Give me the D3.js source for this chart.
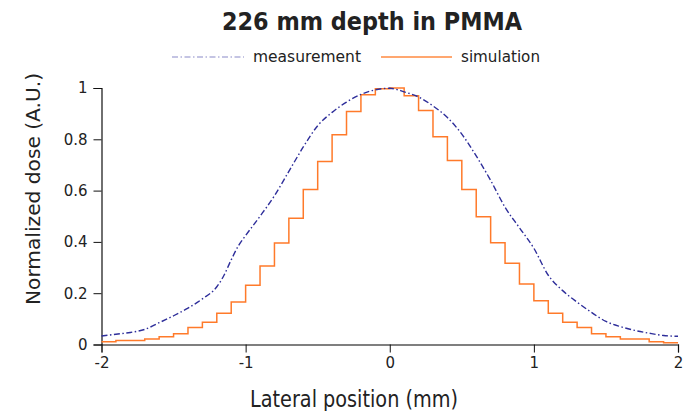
<!DOCTYPE html>
<html><head><meta charset="utf-8">
<script src="https://cdn.jsdelivr.net/npm/d3@7"></script>
<style>body{margin:0;background:#fff}svg{display:block}text{font-family:"DejaVu Sans",sans-serif;fill:#222}</style>
</head><body>
<svg id="c" width="685" height="411"></svg>
<script>
const title = "226 mm depth in PMMA";
const xLabel = "Lateral position (mm)";
const yLabel = "Normalized dose (A.U.)";
const xTicks = [-2, -1, 0, 1, 2];
const yTicks = [0, 0.2, 0.4, 0.6, 0.8, 1];
const yTickLabels = ["0", "0.2", "0.4", "0.6", "0.8", "1"];

// measurement (dash-dot)
const measX = [-2.0,-1.9,-1.8,-1.7,-1.6,-1.5,-1.4,-1.3,-1.2,-1.15,-1.1,-1.05,-1.0,-0.9,-0.8,-0.7,-0.6,-0.5,-0.4,-0.3,-0.2,-0.1,0,0.1,0.2,0.3,0.4,0.5,0.6,0.7,0.8,0.9,1.0,1.1,1.2,1.3,1.4,1.5,1.6,1.7,1.8,1.9,2.0];
const measY = [0.033,0.040,0.047,0.059,0.085,0.112,0.142,0.178,0.225,0.27,0.33,0.385,0.425,0.50,0.58,0.675,0.77,0.853,0.905,0.945,0.975,0.993,0.999,0.985,0.965,0.93,0.885,0.82,0.735,0.64,0.535,0.455,0.375,0.27,0.21,0.165,0.125,0.09,0.07,0.055,0.044,0.035,0.032];

// simulation histogram: bin left edges and values
const simEdges = [-2.0,-1.9,-1.8,-1.7,-1.6,-1.5,-1.4,-1.3,-1.2,-1.1,-1.0,-0.9,-0.8,-0.7,-0.6,-0.5,-0.4,-0.3,-0.2,-0.1,0,0.1,0.2,0.3,0.4,0.5,0.6,0.7,0.8,0.9,1.0,1.1,1.2,1.3,1.4,1.5,1.6,1.7,1.8,1.9,2.0];
const simY = [0.011,0.016,0.016,0.021,0.030,0.042,0.066,0.087,0.122,0.166,0.231,0.306,0.396,0.492,0.604,0.713,0.818,0.908,0.974,0.997,1.0,0.970,0.912,0.81,0.717,0.604,0.498,0.397,0.317,0.236,0.171,0.122,0.087,0.066,0.042,0.030,0.021,0.021,0.011,0.007];

const svg = d3.select("#c");
const x = d3.scaleLinear().domain([-2, 2]).range([101.5, 678]);
const y = d3.scaleLinear().domain([0, 1]).range([344.5, 88]);

// axes
const xAxis = svg.append("g").attr("transform", `translate(0,${y(0)})`)
  .call(d3.axisBottom(x).tickValues(xTicks).tickSize(8).tickPadding(5).tickFormat(d3.format("d")));
xAxis.select(".domain").attr("stroke", "#555").attr("stroke-width", 1.3);
xAxis.selectAll(".tick line").attr("stroke", "#111");
xAxis.selectAll("text").style("font-size", "15px").attr("fill", "#222").text(d => d < 0 ? "-" + Math.abs(d) : d);

const yAxis = svg.append("g").attr("transform", `translate(${x(-2)},0)`)
  .call(d3.axisLeft(y).tickValues(yTicks).tickSize(8).tickPadding(6).tickFormat((d, i) => yTickLabels[i]));
yAxis.select(".domain").attr("stroke", "#111").attr("stroke-width", 1.2);
yAxis.selectAll(".tick line").attr("stroke", "#111");
yAxis.selectAll("text").style("font-size", "15px").attr("fill", "#222");

// simulation step
const simPts = simEdges.map((e, i) => [e, simY[Math.min(i, simY.length - 1)]]);
svg.append("path").datum(simPts)
  .attr("d", d3.line().x(d => x(d[0])).y(d => y(d[1])).curve(d3.curveStepAfter))
  .attr("fill", "none").attr("stroke", "#ff7a2a").attr("stroke-width", 1.5);

// measurement
const measPts = measX.map((v, i) => [v, measY[i]]);
svg.append("path").datum(measPts)
  .attr("d", d3.line().x(d => x(d[0])).y(d => y(d[1])).curve(d3.curveMonotoneX))
  .attr("fill", "none").attr("stroke", "#2e2e9a").attr("stroke-width", 1.4)
  .attr("stroke-dasharray", "6,2.5,1.5,2.5");

// title
svg.append("text").attr("x", 372).attr("y", 30).attr("text-anchor", "middle")
  .attr("textLength", 300).attr("lengthAdjust", "spacingAndGlyphs")
  .style("font-size", "24px").style("font-weight", "bold").attr("fill", "#111").text(title);

// legend
svg.append("line").attr("x1", 172).attr("x2", 244).attr("y1", 57).attr("y2", 57)
  .attr("stroke", "#8a8ac8").attr("stroke-width", 1.2).attr("stroke-dasharray", "6,2.5,1.5,2.5");
svg.append("text").attr("x", 253).attr("y", 62).attr("textLength", 108).attr("lengthAdjust", "spacingAndGlyphs")
  .style("font-size", "15.5px").text("measurement");
svg.append("line").attr("x1", 381).attr("x2", 452).attr("y1", 57).attr("y2", 57)
  .attr("stroke", "#ff8a40").attr("stroke-width", 1.3);
svg.append("text").attr("x", 461).attr("y", 62).attr("textLength", 79).attr("lengthAdjust", "spacingAndGlyphs")
  .style("font-size", "15.5px").text("simulation");

// axis labels
svg.append("text").attr("x", 354).attr("y", 407).attr("text-anchor", "middle")
  .attr("textLength", 208).attr("lengthAdjust", "spacingAndGlyphs")
  .style("font-size", "23px").text(xLabel);
svg.append("text").attr("transform", `translate(40,189) rotate(-90)`).attr("text-anchor", "middle")
  .attr("textLength", 232).attr("lengthAdjust", "spacingAndGlyphs")
  .style("font-size", "20px").text(yLabel);
</script>
</body></html>
